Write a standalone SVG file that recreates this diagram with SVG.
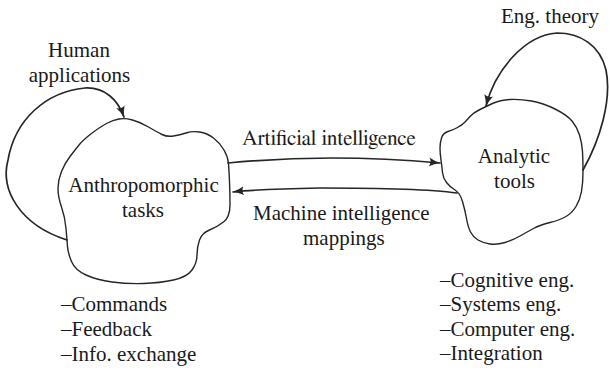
<svg xmlns="http://www.w3.org/2000/svg" width="610" height="371" viewBox="0 0 610 371">
<style>
  .blob { fill: none; stroke: #262626; stroke-width: 1.4; stroke-linejoin: round; }
  .conn { fill: none; stroke: #262626; stroke-width: 1.7; stroke-linecap: round; }
</style>
<defs>
  <marker id="arr" viewBox="0 0 12 10" refX="11" refY="5" markerWidth="12" markerHeight="10" markerUnits="userSpaceOnUse" orient="auto">
    <path d="M0,0.5 Q5,3.5 11.5,5 Q5,6.5 0,9.5 Q3,5 0,0.5 Z" fill="#262626"/>
  </marker>
</defs>
<rect x="0" y="0" width="610" height="371" fill="#ffffff"/>

<g id="connectors">
  <path class="conn" d="M67,240 C20,225 0,190 8,160 C15,120 45,92 85,88 C105,87 118,100 124,117" marker-end="url(#arr)"/>
  <path class="conn" d="M583,170 C600,140 612,100 606,70 C600,45 580,33 557,33 C525,35 495,70 486,106" marker-end="url(#arr)"/>
  <path class="conn" d="M228,163 Q330,153 440,163" marker-end="url(#arr)"/>
  <path class="conn" d="M457,193 Q420,188 320,188 Q260,189 233,192" marker-end="url(#arr)"/>
</g>

<g id="anthropomorphic-tasks">
  <path class="blob" d="M119,119 Q125,118 132.5,120 Q140,122 148.5,127 Q157,132 162,134.5 Q167,137 173.5,136 Q180,135 186,133 Q192,131 199.5,132 Q207,133 213.5,138 Q220,143 224,150 Q228,157 228.5,163.5 Q229,170 229.5,181.5 Q230,193 230,205 Q230,217 223.5,222 Q217,227 209.5,230 Q202,233 199.5,240 Q197,247 197,255 Q197,263 192,270 Q187,277 173.5,280 Q160,283 143.5,283.5 Q127,284 112,282 Q97,280 86,275 Q75,270 71.5,261.5 Q68,253 67.5,246.5 Q67,240 66,228.5 Q65,217 61.5,207 Q58,197 58,188.5 Q58,180 61.5,171.5 Q65,163 70,156.5 Q75,150 79,145 Q83,140 91.5,133.5 Q100,127 106.5,123.5 Q113,120 119,119 Z"/>
  <text font-family="Liberation Serif" font-size="21" fill="#1a1a1a" text-anchor="middle" x="143.5" y="192">Anthropomorphic</text>
  <text font-family="Liberation Serif" font-size="21" fill="#1a1a1a" text-anchor="middle" x="143" y="217">tasks</text>
</g>

<g id="analytic-tools">
  <path class="blob" d="M479,110 Q485,107 492.5,103.5 Q500,100 510,99.5 Q520,99 531.5,101 Q543,103 555,109 Q567,115 572,121 Q577,127 579.5,135 Q582,143 582.5,151.5 Q583,160 583,171.5 Q583,183 581.5,191.5 Q580,200 576,206.5 Q572,213 566,216.5 Q560,220 550,222.5 Q540,225 533.5,228.5 Q527,232 520,236 Q513,240 505,242.5 Q497,245 490,244 Q483,243 478,240 Q473,237 470.5,232 Q468,227 466.5,218.5 Q465,210 462.5,201.5 Q460,193 455,190 Q450,187 446.5,182.5 Q443,178 442.5,172.5 Q442,167 441,160 Q440,153 440,148 Q440,143 441.5,138 Q443,133 448,131.5 Q453,130 457.5,127.5 Q462,125 464.5,122.5 Q467,120 470,116.5 Q473,113 479,110 Z"/>
  <text font-family="Times New Roman" font-size="21" fill="#1a1a1a" text-anchor="middle" x="514" y="163">Analytic</text>
  <text font-family="Times New Roman" font-size="21" fill="#1a1a1a" text-anchor="middle" x="514.5" y="188">tools</text>
</g>

<g id="human-applications">
  <text font-family="serif" font-size="21" fill="#1a1a1a" text-anchor="middle" x="79" y="57">Human</text>
  <text font-family="serif" font-size="21" fill="#1a1a1a" text-anchor="middle" x="79.5" y="82">applications</text>
</g>

<g id="eng-theory">
  <text font-family="Tinos" font-size="21" fill="#1a1a1a" text-anchor="middle" x="550" y="23">Eng. theory</text>
</g>

<g id="artificial-intelligence">
  <text font-family="FreeSerif" font-size="21" fill="#1a1a1a" text-anchor="middle" x="329" y="145">Artificial intelligence</text>
</g>

<g id="machine-intelligence">
  <text font-family="Liberation Serif" font-size="21" fill="#1a1a1a" x="253" y="220">Machine intelligence</text>
  <text font-family="Liberation Serif" font-size="21" fill="#1a1a1a" x="303" y="245">mappings</text>
</g>

<g id="task-list">
  <text font-family="Liberation Serif" font-size="21" fill="#1a1a1a" x="61" y="311">&#8211;Commands</text>
  <text font-family="Liberation Serif" font-size="21" fill="#1a1a1a" x="61" y="336">&#8211;Feedback</text>
  <text font-family="Liberation Serif" font-size="21" fill="#1a1a1a" x="61" y="361">&#8211;Info. exchange</text>
</g>

<text font-family="Liberation Serif" font-size="21" fill="#1a1a1a" x="440" y="287">&#8211;Cognitive eng.</text>
<text font-family="Liberation Serif" font-size="21" fill="#1a1a1a" x="440" y="311">&#8211;Systems eng.</text>
<text font-family="Liberation Serif" font-size="21" fill="#1a1a1a" x="440" y="336">&#8211;Computer eng.</text>
<text font-family="Liberation Serif" font-size="21" fill="#1a1a1a" x="440" y="360">&#8211;Integration</text>
</svg>
